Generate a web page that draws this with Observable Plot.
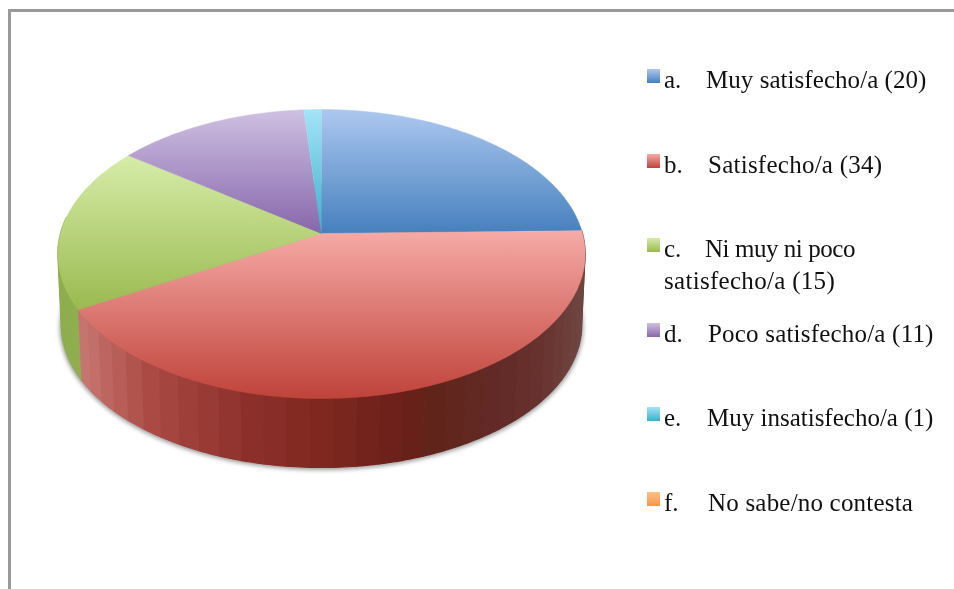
<!DOCTYPE html>
<html lang="es">
<head>
<meta charset="utf-8">
<script src="https://cdn.jsdelivr.net/npm/d3@7"></script>
<script src="https://cdn.jsdelivr.net/npm/@observablehq/plot@0.6"></script>
<style>
html,body{margin:0;padding:0;background:#fff;overflow:hidden}
#page{position:relative;width:954px;height:589px;overflow:hidden}
#page svg{position:absolute;left:0;top:0;background:transparent}
#frame{position:absolute;left:8px;top:9px;width:960px;height:600px;border-left:3px solid #999;border-top:3px solid #999}
.sw{position:absolute;width:13px;height:14px}
.lb{position:absolute;font:25px/32px "Liberation Serif",serif;color:#111;white-space:pre;filter:blur(.35px)}
</style>
</head>
<body>
<div id="page"><div id="frame"></div></div>
<script>
// Data
const keys = ["a", "b", "c", "d", "e", "f"];
const labels = ["Muy satisfecho/a", "Satisfecho/a", "Ni muy ni poco", "Poco satisfecho/a", "Muy insatisfecho/a", "No sabe/no contesta"];
const secondLines = ["", "", "satisfecho/a", "", "", ""];
const values = [20, 34, 15, 11, 1, 0];

// Styles
const gradientLight = ["#adc8f0", "#f6aaa6", "#d6eca8", "#cfc0e2", "#a4e4f7", "#ffc08a"];
const gradientDark = ["#4580bd", "#bf433a", "#9aba50", "#8767ab", "#3cafcb", "#f79646"];
const wallPositions = [-0.92, -0.66, -0.3, 0, 0.3, 0.45, 0.68, 0.83, 1];
const wallColors = ["#c77570", "#ab4a44", "#8e302b", "#7e2820", "#6c2019", "#60241a", "#632a27", "#67312d", "#6f4541"];
const greenWall = "#8fae4e";
const labelX = [706, 708, 705, 708, 707, 708];
const labelSpacing = ["0.05px", "0.25px", "-0.45px", "0.2px", "0", "0.2px"];

// Perspective of the disk, in the units of the x and y scales
const tilt = -0.142;
const wallDrop = 0.5, wallShrink = 0.987, ellipseMid = 0.145;
const project = (angle) => {
  const u = Math.sin(angle), v = -Math.cos(angle), w = 1 + tilt * v;
  return [u / w, v / w];
};
const lower = ([x, y]) => [x * wallShrink, (y - ellipseMid) * wallShrink + ellipseMid + wallDrop];

const arcs = d3.pie().sort(null).value((d) => d)(values);
const angleStep = Math.PI / 180;
const arcAngles = (a0, a1) => {
  const n = Math.max(1, Math.ceil((a1 - a0) / angleStep));
  return d3.range(n + 1).map((i) => a0 + ((a1 - a0) * i) / n);
};

const faces = arcs.filter((a) => a.value > 0).map((a) => ({
  key: keys[a.index],
  points: [[0, 0], ...arcAngles(a.startAngle, a.endAngle).map(project)]
}));

const wallColor = d3.scaleLinear().domain(wallPositions).range(wallColors).interpolate(d3.interpolateRgb).clamp(true);
const stripWidth = 4.5 * angleStep;
const strips = [];
let stripId = 0;
const addWall = (a0, a1, colorOf) => {
  const n = Math.ceil((a1 - a0) / stripWidth);
  for (let i = 0; i < n; i++) {
    const s0 = a0 + ((a1 - a0) * i) / n, s1 = a0 + ((a1 - a0) * (i + 1)) / n;
    const angles = arcAngles(s0, s1);
    const top = angles.map(project), bottom = angles.map(project).map(lower).reverse();
    const color = colorOf(project((s0 + s1) / 2)[0]);
    stripId++;
    for (const p of [...top, ...bottom]) strips.push({strip: stripId, x: p[0], y: p[1], color});
  }
};
addWall(arcs[1].startAngle, arcs[1].endAngle, (x) => wallColor(x));
addWall(arcs[2].startAngle, arcs[2].startAngle + (arcs[2].endAngle - arcs[2].startAngle) * 0.55, () => greenWall);

const rim = arcAngles(0, 2 * Math.PI).map(project).map(lower);

const defs = () => {
  const d = d3.create("svg:defs");
  keys.forEach((k, i) => {
    const g = d.append("linearGradient").attr("id", `grad-${k}`).attr("x1", 0).attr("y1", 0).attr("x2", 0).attr("y2", 1);
    g.append("stop").attr("offset", "0%").attr("stop-color", gradientLight[i]);
    g.append("stop").attr("offset", "100%").attr("stop-color", gradientDark[i]);
  });
  return d.node();
};

const chart = Plot.plot({
  width: 954,
  height: 589,
  margin: 0,
  x: {axis: null, domain: [-1, 1], range: [60, 582]},
  y: {axis: null, domain: [-1, 1], range: [91.4, 374.6]},
  color: {type: "identity"},
  marks: [
    defs,
    Plot.line(rim, {x: (d) => d[0] * 1.004, y: (d) => d[1], fill: "#9a9a9a", stroke: "#9a9a9a", strokeWidth: 1, dy: 2, imageFilter: "blur(2px)"}),
    Plot.line(strips, {x: "x", y: "y", z: "strip", fill: "color", stroke: "color", strokeWidth: 1.2}),
    ...faces.map((f) => Plot.line(f.points, {
      x: (d) => d[0],
      y: (d) => d[1],
      fill: `url(#grad-${f.key})`,
      stroke: `url(#grad-${f.key})`,
      strokeWidth: 0.5
    }))
  ]
});

const page = document.getElementById("page");
page.appendChild(chart);

// Legend
const rowTop = 69, rowStep = 84.6;
keys.forEach((k, i) => {
  const top = rowTop + i * rowStep;
  const sw = document.createElement("div");
  sw.className = "sw";
  sw.style.left = "647px";
  sw.style.top = top + "px";
  sw.style.background = `linear-gradient(${gradientLight[i]},${gradientDark[i]})`;
  page.appendChild(sw);
  const addText = (text, left, t, spacing) => {
    const el = document.createElement("div");
    el.className = "lb";
    el.style.left = left + "px";
    el.style.top = t + "px";
    el.style.letterSpacing = spacing;
    el.textContent = text;
    page.appendChild(el);
  };
  const count = values[i] > 0 ? ` (${values[i]})` : "";
  addText(`${k}.`, 664, top - 5, "0");
  if (secondLines[i]) {
    addText(labels[i], labelX[i], top - 5, labelSpacing[i]);
    addText(secondLines[i] + count, 664, top + 27, "0.3px");
  } else {
    addText(labels[i] + count, labelX[i], top - 5, labelSpacing[i]);
  }
});
</script>
</body>
</html>
